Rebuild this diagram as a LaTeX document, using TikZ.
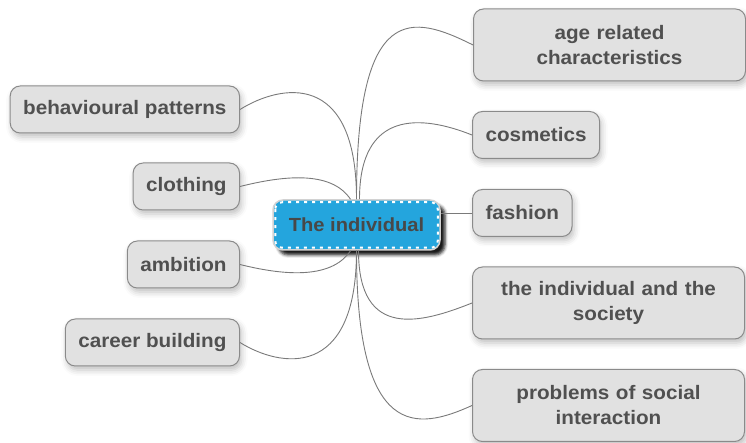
\documentclass[tikz,border=0pt]{standalone}
\usepackage{fontspec}
\setmainfont{Liberation Sans}[FakeStretch=1.06]
\usetikzlibrary{shadows.blur}

\definecolor{topicfill}{HTML}{E1E1E1}
\definecolor{topicline}{HTML}{8A8A8A}
\definecolor{topictext}{HTML}{505050}
\definecolor{hubfill}{HTML}{24A5DD}
\definecolor{linkline}{HTML}{7A7A7A}

\tikzset{
	topic/.style={draw=topicline, fill=topicfill, line width=1pt, rounded corners=10pt,
		text=topictext, font=\fontsize{19.5}{25}\selectfont\bfseries,
		inner xsep=13pt, inner ysep=0pt, minimum height=47pt, align=center,
		blur shadow={shadow xshift=2pt, shadow yshift=-4pt, shadow blur radius=6pt, shadow opacity=25}},
	twoline/.style={topic, text width=246pt, minimum height=72pt},
	hubnode/.style={draw=gray!35, fill=hubfill, line width=1.5pt, rounded corners=10pt,
		text=topictext!90!black, font=\fontsize{19}{25}\selectfont\bfseries,
		minimum width=167pt, minimum height=50pt,
		blur shadow={shadow xshift=5pt, shadow yshift=-5pt, shadow blur radius=3pt, shadow opacity=90}},
	link/.style={draw=linkline, line width=0.9pt}
}

\begin{document}
\begin{tikzpicture}[x=1pt, y=1pt]
	\useasboundingbox (0,0) rectangle (746,443);

	% centre
	\node[hubnode] (hub) at (356.5,218) {The individual};
	\draw[white, line width=2pt, dash pattern=on 3pt off 5pt, rounded corners=7pt]
		([shift={(3,-3)}]hub.north west) rectangle ([shift={(-3,3)}]hub.south east);

	% right side
	\node[twoline, anchor=west] (age) at (473,398) {age related\\characteristics};
	\node[topic, anchor=west] (cosmetics) at (472,308) {cosmetics};
	\node[topic, anchor=west] (fashion) at (472,230) {fashion};
	\node[twoline, anchor=west] (society) at (472,140) {the individual and the\\society};
	\node[twoline, anchor=west] (problems) at (472,37.5) {problems of social\\interaction};

	% left side
	\node[topic, anchor=east] (behaviour) at (240,333.5) {behavioural patterns};
	\node[topic, anchor=east] (clothing) at (240,256.5) {clothing};
	\node[topic, anchor=east] (ambition) at (240,178.5) {ambition};
	\node[topic, anchor=east] (career) at (240,100.5) {career building};

	% links
	\draw[link] (hub.north) .. controls +(0,200) and +(-60,30) .. (age.west);
	\draw[link] ([xshift=3]hub.north) .. controls +(0,90) and +(-50,20) .. (cosmetics.west);
	\draw[link] (fashion.west) -- (fashion.west -| hub.east);
	\draw[link] ([xshift=2]hub.south) .. controls +(0,-90) and +(-50,-20) .. (society.west);
	\draw[link] (hub.south) .. controls +(0,-190) and +(-55,-25) .. (problems.west);

	\draw[link] (hub.north) .. controls +(0,130) and +(40,25) .. (behaviour.east);
	\draw[link] ([xshift=-6]hub.north) .. controls +(-20,30) and +(40,10) .. (clothing.east);
	\draw[link] ([xshift=-6]hub.south) .. controls +(-20,-30) and +(40,-10) .. (ambition.east);
	\draw[link] (hub.south) .. controls +(0,-130) and +(40,-25) .. (career.east);
\end{tikzpicture}
\end{document}
